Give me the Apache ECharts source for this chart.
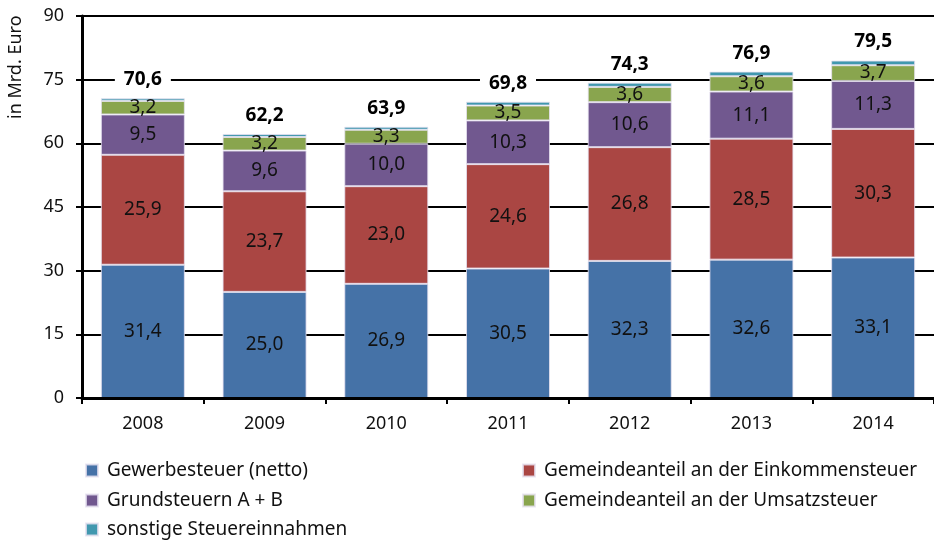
<!DOCTYPE html>
<html><head><meta charset="utf-8">
<script src="https://cdn.jsdelivr.net/npm/echarts@6/dist/echarts.min.js"></script>
<style>html,body{margin:0;padding:0;background:#fff}#c{width:934px;height:542px}</style>
</head><body><div id="c"></div>
<script>
const categories = ['2008','2009','2010','2011','2012','2013','2014'];
const gewerbe = [31.4, 25.0, 26.9, 30.5, 32.3, 32.6, 33.1];
const einkommen = [25.9, 23.7, 23.0, 24.6, 26.8, 28.5, 30.3];
const grund = [9.5, 9.6, 10.0, 10.3, 10.6, 11.1, 11.3];
const umsatz = [3.2, 3.2, 3.3, 3.5, 3.6, 3.6, 3.7];
const sonstige = [0.6, 0.7, 0.7, 0.9, 1.0, 1.1, 1.1];
const totals = [70.6, 62.2, 63.9, 69.8, 74.3, 76.9, 79.5];
const yTicks = [0, 15, 30, 45, 60, 75, 90];

const FONT = 'Noto Sans';
const fmt = v => v.toFixed(1).replace('.', ',');
const names = ['Gewerbesteuer (netto)', 'Gemeindeanteil an der Einkommensteuer', 'Grundsteuern A + B', 'Gemeindeanteil an der Umsatzsteuer', 'sonstige Steuereinnahmen'];
const colors = ['#4572A7', '#AA4643', '#71588F', '#89A54E', '#4198AF'];
const dataSets = [gewerbe, einkommen, grund, umsatz, sonstige];

const series = dataSets.map((d, i) => ({
  name: names[i], type: 'bar', stack: 'total', data: d, barWidth: 84,
  itemStyle: { color: colors[i], borderColor: 'rgba(230,225,240,0.8)', borderWidth: 1 },
  label: i < 4 ? {
    show: true, position: 'inside', color: '#111', fontFamily: FONT, fontSize: 19,
    formatter: p => fmt(p.value)
  } : {
    show: true, position: 'top', distance: 8, color: '#000', fontFamily: FONT, fontSize: 19, fontWeight: 'bold',
    backgroundColor: '#fff', padding: [1, 9],
    formatter: p => fmt(totals[p.dataIndex])
  },
  z: 3
}));

const legendPos = [[85, 461], [522, 461], [85, 491], [522, 491], [85, 520]];
const legends = names.map((n, i) => ({
  data: [n], left: legendPos[i][0], top: legendPos[i][1], padding: 0,
  itemWidth: 12, itemHeight: 12, itemGap: 9, icon: 'rect',
  textStyle: { fontFamily: FONT, fontSize: 19, color: '#111', padding: [0, 0, 0, 4] }
}));

const chart = echarts.init(document.getElementById('c'), null, { renderer: 'canvas' });
chart.setOption({
  animation: false,
  backgroundColor: '#fff',
  grid: { left: 82, right: 0, top: 16, bottom: 144, containLabel: false },
  xAxis: {
    type: 'category', data: categories,
    axisLine: { lineStyle: { color: '#000', width: 3 } },
    axisTick: { show: true, length: 6, lineStyle: { color: '#000', width: 2 } },
    axisLabel: { color: '#111', fontFamily: FONT, fontSize: 18, margin: 17 },
    z: 5
  },
  yAxis: {
    type: 'value', min: 0, max: 90, interval: 15,
    axisLine: { show: true, lineStyle: { color: '#000', width: 3 } },
    axisTick: { show: true, length: 6, lineStyle: { color: '#000', width: 2 } },
    axisLabel: { color: '#111', fontFamily: FONT, fontSize: 18, margin: 18,
      formatter: v => yTicks.includes(v) ? String(v) : '' },
    splitLine: { show: true, lineStyle: { color: '#000', width: 2 } },
    z: 1
  },
  legend: legends,
  graphic: [{
    type: 'text', x: 7, y: 119, rotation: Math.PI / 2,
    style: { text: 'in Mrd. Euro', font: '18px "Noto Sans"', fill: '#111', textVerticalAlign: 'top' }
  }],
  series
});
</script></body></html>
